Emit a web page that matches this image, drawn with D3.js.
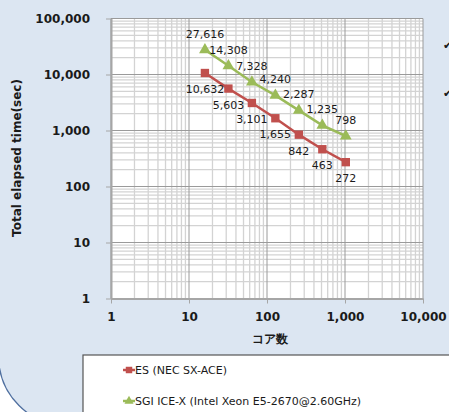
<!DOCTYPE html>
<meta charset="utf-8" />
<script src="https://d3js.org/d3.v7.min.js"></script>
<style>
  body { margin: 0; background: #fff; }
  svg text { font-family: "DejaVu Sans", Verdana, sans-serif; fill: #1a1a1a; }
  .axis text { font-weight: bold; font-size: 12px; }
  .axis path, .axis line { stroke: #a6a6a6; }
  .axis path { stroke-width: 2; }
  .lbl { font-size: 11px; }
</style>
<svg width="449" height="412"></svg>
<script>
  // cores on x axis
  var cores = [16, 32, 64, 128, 256, 512, 1024];
  var esTimes = [10632, 5603, 3101, 1655, 842, 463, 272];
  var sgiTimes = [27616, 14308, 7328, 4240, 2287, 1235, 798];
  var seriesNames = ["ES (NEC SX-ACE)", "SGI ICE-X (Intel Xeon E5-2670@2.60GHz)"];
  var xTicks = [1, 10, 100, 1000, 10000];
  var yTicks = [1, 10, 100, 1000, 10000, 100000];

  var svg = d3.select("svg");
  var pL = 111, pR = 423, pT = 18.5, pB = 298.5;

  // slide background with rounded corner
  svg.append("rect").attr("x", -1.5).attr("y", -80).attr("width", 600).attr("height", 506)
    .attr("rx", 70).attr("fill", "#dce6f2").attr("stroke", "#4f6f9f").attr("stroke-width", 1.3);

  // bullets cut off on the right
  svg.append("text").attr("x", 443).attr("y", 49).style("font-size", "11px").text("\u2714");
  svg.append("text").attr("x", 443).attr("y", 97).style("font-size", "11px").text("\u2714");

  var x = d3.scaleLog().domain([1, 10000]).range([pL, pR]);
  var y = d3.scaleLog().domain([1, 100000]).range([pB, pT]);

  svg.append("rect").attr("x", pL).attr("y", pT)
    .attr("width", pR - pL).attr("height", pB - pT).attr("fill", "#fff");

  // minor + major grid
  var minorX = [], minorY = [];
  for (var d = 1; d < 10000; d *= 10) for (var k = 2; k < 10; k++) minorX.push(d * k);
  for (var d = 1; d < 100000; d *= 10) for (var k = 2; k < 10; k++) minorY.push(d * k);

  var grid = svg.append("g");
  grid.selectAll(".mx").data(minorX).enter().append("line")
    .attr("x1", x).attr("x2", x).attr("y1", pT).attr("y2", pB)
    .attr("stroke", "#d3d3d3").attr("stroke-width", 1.3);
  grid.selectAll(".my").data(minorY).enter().append("line")
    .attr("y1", y).attr("y2", y).attr("x1", pL).attr("x2", pR)
    .attr("stroke", "#d3d3d3").attr("stroke-width", 1.3);
  grid.selectAll(".Mx").data(xTicks).enter().append("line")
    .attr("x1", x).attr("x2", x).attr("y1", pT).attr("y2", pB)
    .attr("stroke", "#9a9a9a").attr("stroke-width", 1);
  grid.selectAll(".My").data(yTicks).enter().append("line")
    .attr("y1", y).attr("y2", y).attr("x1", pL).attr("x2", pR)
    .attr("stroke", "#9a9a9a").attr("stroke-width", 1);

  svg.append("g").attr("class", "axis")
    .attr("transform", "translate(0," + pB + ")")
    .call(d3.axisBottom(x).tickValues(xTicks).tickFormat(d3.format(",")).tickSize(5).tickSizeOuter(0).tickPadding(9));
  svg.append("g").attr("class", "axis")
    .attr("transform", "translate(" + pL + ",0)")
    .call(d3.axisLeft(y).tickValues(yTicks).tickFormat(d3.format(",")).tickSize(5).tickSizeOuter(0).tickPadding(16));

  svg.append("text").attr("x", 270).attr("y", 343).attr("text-anchor", "middle")
    .style("font-weight", "bold").style("font-size", "12px").text("コア数");
  svg.append("text").attr("transform", "translate(21,158) rotate(-90)").attr("text-anchor", "middle")
    .style("font-weight", "bold").style("font-size", "12px").text("Total elapsed time(sec)");

  var line = d3.line().x(function (d) { return x(d[0]); }).y(function (d) { return y(d[1]); });
  var series = [
    { name: seriesNames[0], vals: esTimes, color: "#c0504d", sym: d3.symbolSquare, size: 70, dy: 20 },
    { name: seriesNames[1], vals: sgiTimes, color: "#9bbb59", sym: d3.symbolTriangle, size: 60, dy: -12 }
  ];
  var fmt = d3.format(",");

  series.forEach(function (s, i) {
    var pts = cores.map(function (c, j) { return [c, s.vals[j]]; });
    svg.append("path").datum(pts).attr("d", line).attr("fill", "none")
      .attr("stroke", s.color).attr("stroke-width", 2.5);
    svg.selectAll(".pt" + i).data(pts).enter().append("path")
      .attr("d", d3.symbol().type(s.sym).size(s.size))
      .attr("transform", function (d) { return "translate(" + x(d[0]) + "," + y(d[1]) + ")"; })
      .attr("fill", s.color);
    svg.selectAll(".lb" + i).data(pts).enter().append("text").attr("class", "lbl")
      .attr("x", function (d) { return x(d[0]); })
      .attr("y", function (d) { return y(d[1]) + s.dy; })
      .attr("text-anchor", "middle").text(function (d) { return fmt(d[1]); });
  });

  // legend
  svg.append("rect").attr("x", 83).attr("y", 355).attr("width", 400).attr("height", 100)
    .attr("fill", "#fff").attr("stroke", "#555").attr("stroke-width", 1.2);
  series.forEach(function (s, i) {
    var ly = 370 + i * 31;
    svg.append("line").attr("x1", 123).attr("x2", 135).attr("y1", ly).attr("y2", ly)
      .attr("stroke", s.color).attr("stroke-width", 2.5);
    svg.append("path").attr("d", d3.symbol().type(s.sym).size(s.size * 0.6))
      .attr("transform", "translate(129," + ly + ")").attr("fill", s.color);
    svg.append("text").attr("class", "lbl").attr("x", 135).attr("y", ly + 4).text(s.name);
  });
</script>
